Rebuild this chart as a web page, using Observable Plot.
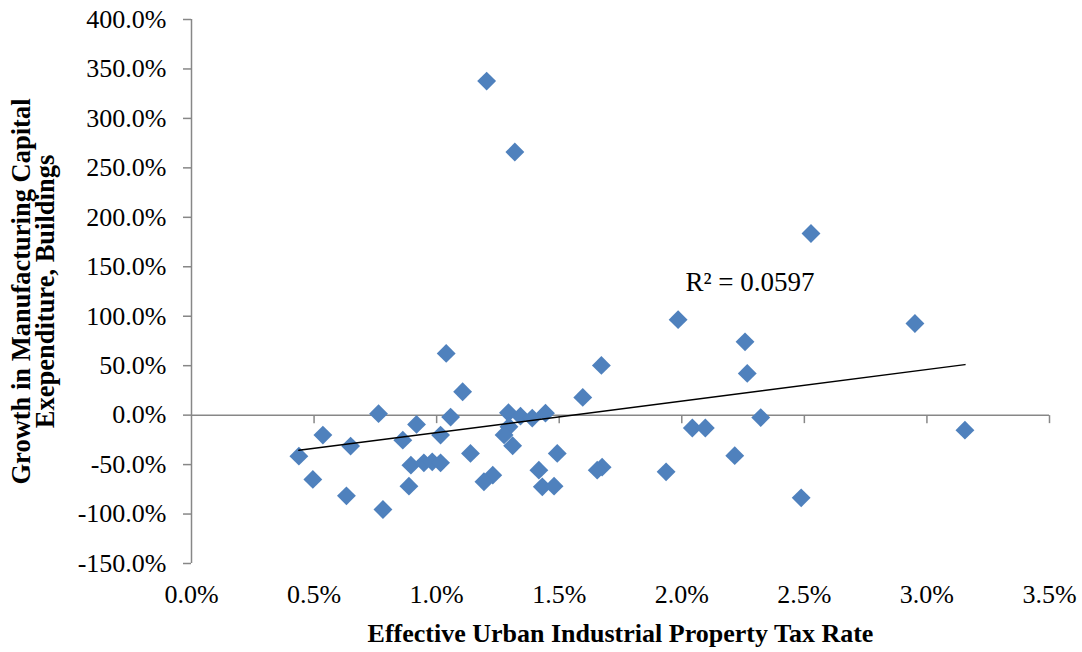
<!DOCTYPE html>
<html><head><meta charset="utf-8">
<script src="https://cdn.jsdelivr.net/npm/d3@7"></script>
<script src="https://cdn.jsdelivr.net/npm/@observablehq/plot@0.6"></script>
<style>body{margin:0;background:#fff;} svg{display:block;}</style>
</head><body><div id="chart"></div>
<script>
// Effective urban industrial property tax rate (%)
const taxRate = [1.204, 1.319, 2.527, 1.985, 2.951, 2.258, 1.039, 1.672, 2.267, 1.106,
  1.596, 0.763, 1.293, 1.342, 1.390, 1.444, 1.295, 1.275, 1.310, 1.057,
  2.322, 0.918, 2.043, 2.096, 3.155, 1.016, 0.536, 0.862, 0.649, 1.138,
  1.492, 2.216, 0.438, 0.895, 0.948, 0.982, 1.016, 1.675, 1.655, 1.417,
  1.936, 1.229, 0.495, 1.193, 0.887, 1.431, 1.479, 0.632, 2.487, 0.781];
// Growth in manufacturing capital expenditure, buildings (%)
const growth = [337.7, 266.0, 183.7, 96.5, 92.7, 74.1, 62.4, 50.3, 42.2, 23.6,
  17.9, 1.5, 2.4, -1.0, -3.0, 2.0, -11.8, -20.0, -31.0, -2.0,
  -2.5, -9.4, -13.0, -13.0, -15.2, -20.2, -20.2, -25.3, -31.3, -38.7,
  -38.7, -41.0, -41.5, -50.6, -48.2, -47.2, -48.2, -52.6, -55.6, -55.6,
  -57.3, -60.7, -65.0, -67.4, -71.8, -72.5, -71.8, -81.6, -83.6, -95.4];
const xTicks = [0, 0.5, 1.0, 1.5, 2.0, 2.5, 3.0, 3.5];
const yTicks = [-150, -100, -50, 0, 50, 100, 150, 200, 250, 300, 350, 400];
const xTitle = "Effective Urban Industrial Property Tax Rate";
const yTitle = ["Growth in Manufacturing Capital", "Exependiture, Buildings"];
const r2Label = "R² = 0.0597";
const r2Pos = {x: 2.015, y: 134.5};

const data = taxRate.map((x, i) => ({x, y: growth[i]}));
const pct = d => d.toFixed(1) + "%";
const gray = "#878787";
const tickDown = {draw(ctx) { ctx.moveTo(0, 0); ctx.lineTo(0, 8); }};

const chart = Plot.plot({
  width: 1082, height: 652,
  marginTop: 19, marginBottom: 89, marginLeft: 191, marginRight: 33,
  style: {fontFamily: "'Liberation Serif', 'Times New Roman', serif", fontSize: "26px", color: "#000", background: "#fff"},
  x: {domain: [0, 3.5]},
  y: {domain: [-150, 400]},
  marks: [
    Plot.ruleX([0], {stroke: gray, strokeWidth: 1.5}),
    Plot.ruleY([0], {stroke: gray, strokeWidth: 1.5}),
    Plot.dot(xTicks.filter(d => d > 0), {x: d => d, y: () => 0, symbol: tickDown, stroke: gray, strokeWidth: 1.5, fill: "none"}),
    Plot.axisY({ticks: yTicks, tickSize: 8, tickPadding: 17, tickFormat: pct, stroke: gray, strokeWidth: 1.5, fill: "#000", label: null}),
    Plot.axisX({ticks: xTicks, tickSize: 0, tickPadding: 21, tickFormat: pct, fill: "#000", label: null}),
    Plot.dot(data, {x: "x", y: "y", symbol: "diamond2", r: 8.5, fill: "#4F81BD", stroke: "none"}),
    Plot.linearRegressionY(data, {x: "x", y: "y", stroke: "#000", strokeWidth: 1.5, ci: 0}),
    Plot.text([r2Label], {x: () => r2Pos.x, y: () => r2Pos.y, text: d => d, textAnchor: "start", fontSize: 27}),
    Plot.text([xTitle], {frameAnchor: "bottom", dy: 70, text: d => d, textAnchor: "middle", lineAnchor: "middle", fontWeight: "bold", fontSize: 26}),
    Plot.text([yTitle.join("\n")], {frameAnchor: "left", dx: -157, rotate: -90, text: d => d, textAnchor: "middle", lineAnchor: "middle", fontWeight: "bold", fontSize: 26.5, lineHeight: 0.9})
  ]
});
document.getElementById("chart").append(chart);
</script>
</body></html>
